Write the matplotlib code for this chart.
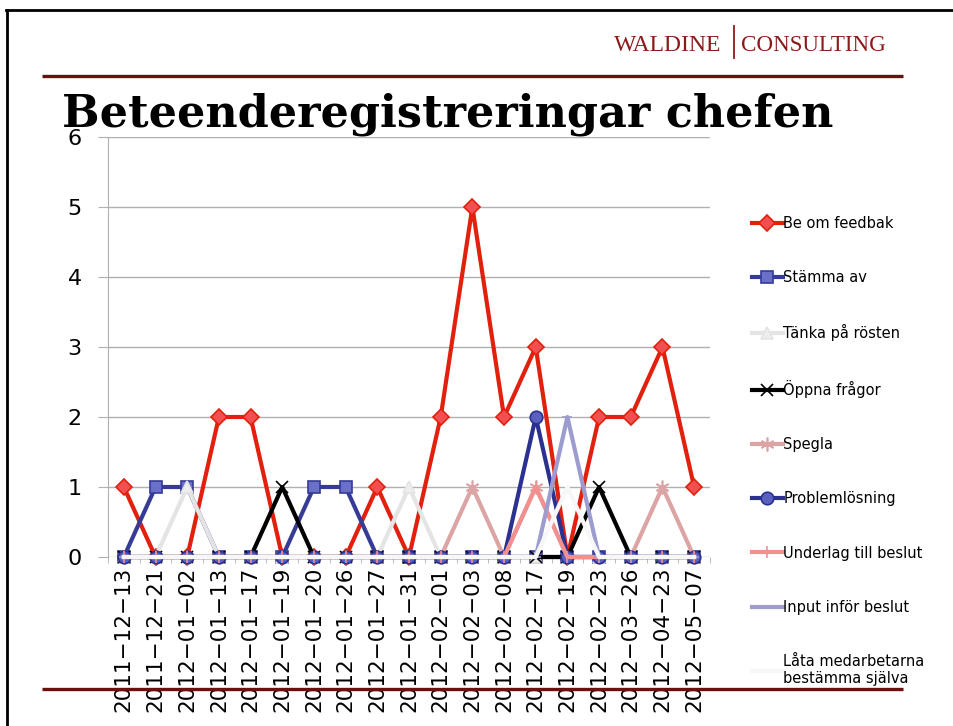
import matplotlib
matplotlib.use("Agg")
import matplotlib.pyplot as plt
import numpy as np

# datum (kategorier)
dates = ["2011−12−13", "2011−12−21", "2012−01−02", "2012−01−13", "2012−01−17",
         "2012−01−19", "2012−01−20", "2012−01−26", "2012−01−27", "2012−01−31",
         "2012−02−01", "2012−02−03", "2012−02−08", "2012−02−17", "2012−02−19",
         "2012−02−23", "2012−03−26", "2012−04−23", "2012−05−07"]

be_om_feedbak = [1, 0, 0, 2, 2, 0, 0, 0, 1, 0, 2, 5, 2, 3, 0, 2, 2, 3, 1]
stamma_av     = [0, 1, 1, 0, 0, 0, 1, 1, 0, 0, 0, 0, 0, 0, 0, 0, 0, 0, 0]
tanka_rosten  = [0, 0, 1, 0, 0, 0, 0, 0, 0, 1, 0, 0, 0, 0, 0, 0, 0, 0, 0]
oppna_fragor  = [0, 0, 0, 0, 0, 1, 0, 0, 0, 0, 0, 0, 0, 0, 0, 1, 0, 0, 0]
spegla        = [0, 0, 0, 0, 0, 0, 0, 0, 0, 0, 0, 1, 0, 1, 0, 0, 0, 1, 0]
problemlosning = [0, 0, 0, 0, 0, 0, 0, 0, 0, 0, 0, 0, 0, 2, 0, 0, 0, 0, 0]
underlag      = [0, 0, 0, 0, 0, 0, 0, 0, 0, 0, 0, 0, 0, 1, 0, 0, 0, 0, 0]
input_beslut  = [0, 0, 0, 0, 0, 0, 0, 0, 0, 0, 0, 0, 0, 0, 2, 0, 0, 0, 0]
lata_medarb   = [0, 0, 0, 0, 0, 0, 0, 0, 0, 0, 0, 0, 0, 0, 1, 0, 0, 0, 0]

series = [
    ("Be om feedbak", be_om_feedbak, "#e2200e", "D", "#f25050", 8),
    ("Stämma av", stamma_av, "#363b96", "s", "#6a70c8", 9),
    ("Tänka på rösten", tanka_rosten, "#e4e4e4", "^", "#eeeeee", 8),
    ("Öppna frågor", oppna_fragor, "black", "x", "black", 8),
    ("Spegla", spegla, "#dca4a4", (6, 2, 0), "#dca4a4", 10),
    ("Problemlösning", problemlosning, "#2b3190", "o", "#5a60c0", 9),
    ("Underlag till beslut", underlag, "#f29090", "|", "#f29090", 9),
    ("Input inför beslut", input_beslut, "#9c9cce", "_", "#b8b8e0", 7),
    ("Låta medarbetarna\nbestämma själva", lata_medarb, "#f7f7f7", "None", "#f7f7f7", 6),
]

fig = plt.figure(figsize=(9.54, 7.26), dpi=100)
ax = fig.add_axes([108/954, 1 - 557/726, (710-108)/954, (557-137)/726])

x = np.arange(len(dates))
for label, vals, col, mk, mfc, ms in series:
    ax.plot(x, vals, color=col, lw=3, marker=mk, markersize=ms,
            markerfacecolor=mfc, markeredgecolor=col, markeredgewidth=1.2,
            label=label, clip_on=False)

ax.set_xlim(-0.5, len(dates) - 0.5)
ax.set_ylim(0, 6)
ax.set_yticks(range(7))
ax.yaxis.grid(True, color="#b0b0b0", lw=1)
ax.set_axisbelow(True)
for s in ["top", "right", "bottom"]:
    ax.spines[s].set_visible(False)
ax.spines["left"].set_color("#b0b0b0")
ax.tick_params(axis="y", colors="#b0b0b0", length=7, labelcolor="black",
               labelsize=16, pad=12)
ax.set_xticks(x)
ax.set_xticklabels(dates, rotation=90, fontsize=15.5, va="top")
ax.tick_params(axis="x", length=0, pad=7)
ax.set_xticks(np.arange(-0.5, len(dates)), minor=True)
ax.tick_params(axis="x", which="minor", length=4, color="#b0b0b0")

leg = ax.legend(loc="upper left", bbox_to_anchor=(752/954, 1 - 216/726),
                bbox_transform=fig.transFigure, frameon=False, fontsize=10.5,
                handlelength=2.1, handletextpad=0.05, labelspacing=2.68,
                borderpad=0, borderaxespad=0)

# slide-dekor ovanpå
ov = fig.add_axes([0, 0, 1, 1], zorder=5)
ov.set_xlim(0, 954)
ov.set_ylim(726, 0)
ov.axis("off")
ov.patch.set_alpha(0)
ov.plot([7, 7], [10, 726], color="black", lw=2)
ov.plot([6, 954], [10, 10], color="black", lw=2)
ov.plot([42, 903], [76, 76], color="#6e0f0f", lw=2.4, solid_capstyle="butt")
ov.plot([42, 903], [689, 689], color="#6e0f0f", lw=2.4, solid_capstyle="butt")
ov.plot([734, 734], [26, 58], color="#8b1a1a", lw=1.3)
ov.text(614, 51, "WALDINE", family="Liberation Serif", fontsize=17,
        color="#8b1a1a", va="baseline", ha="left")
ov.text(741, 51, "CONSULTING", family="Liberation Serif", fontsize=16.6,
        color="#8b1a1a", va="baseline", ha="left")
ov.text(62, 127, "Beteenderegistreringar chefen", family="DejaVu Serif",
        fontweight="bold", fontsize=32, va="baseline", ha="left")

fig.savefig("out.png", dpi=100)
